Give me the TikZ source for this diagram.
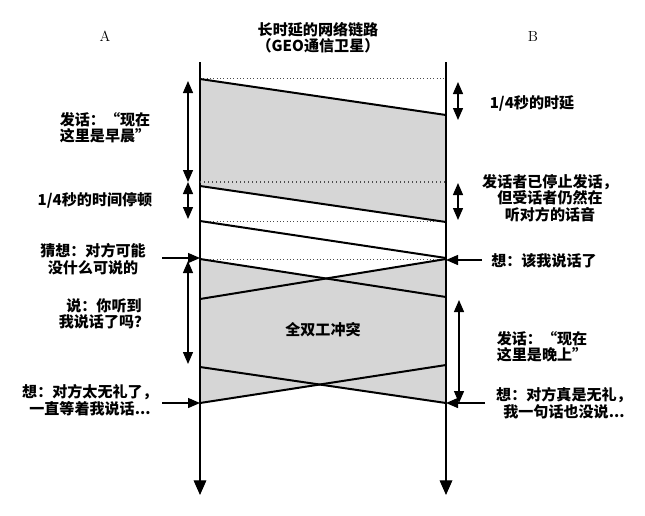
\documentclass[tikz,border=0pt]{standalone}
\usepackage{fontspec}
\newfontfamily\cjk{Noto Sans CJK SC}
\usetikzlibrary{arrows.meta}

\tikzset{
  timeline/.style={line width=0.9pt, -{Triangle[width=9.5pt,length=11pt]}},
  signal/.style={line width=1.5pt},
  edge dots/.style={dotted, line width=0.5pt, color=black!70},
  span/.style={line width=1pt, {Triangle[width=7.5pt,length=9pt]}-{Triangle[width=7.5pt,length=9pt]}},
  pointer/.style={line width=1pt, -{Triangle[width=7.5pt,length=9pt]}},
  talk/.style={fill=black!16, draw=none},
  note/.style={inner sep=0.75pt, align=center, font=\cjk\bfseries\fontsize{11.3}{12.3}\selectfont},
}

\begin{document}
\begin{tikzpicture}[x=0.75pt,y=0.75pt,yscale=-1,xscale=1]
\useasboundingbox (0,0) rectangle (645,515);

%Coordinates of the two ends
\coordinate (Atop) at (200,62);  \coordinate (Abot) at (200,495);
\coordinate (Btop) at (446,62);  \coordinate (Bbot) at (446,495);

%Shape: speech of A (morning)
\fill [talk] (200,79) -- (446,115) -- (446,222) -- (200,186) -- cycle;
%Shape: full duplex speech of A and B
\fill [talk] (200,259) -- (446,297) -- (446,403) -- (200,367) -- cycle;
\fill [talk] (446,259) -- (200,299) -- (200,403) -- (446,365) -- cycle;

%Straight Lines: time axes
\draw [timeline] (Atop) -- (Abot);
\draw [timeline] (Btop) -- (Bbot);

%Dotted Lines
\draw [edge dots] (200,78) -- (446,78);
\draw [edge dots, line width=1pt] (200,182) -- (446,182);
\draw [edge dots] (200,221) -- (446,221);
\draw [edge dots] (200,259) -- (446,259);

%Straight Lines: signals
\draw [signal] (200,79) -- (446,115);
\draw [signal] (200,186) -- (446,222);
\draw [signal] (200,221) -- (446,258);
\draw [signal] (200,259) -- (446,297);
\draw [signal] (446,259) -- (200,299);
\draw [signal] (200,367) -- (446,403);
\draw [signal] (446,365) -- (200,403);

%Double arrows left
\coordinate (la1) at (188,81);  \coordinate (la2) at (188,182);
\coordinate (la3) at (188,219); \coordinate (la4) at (188,261);
\coordinate (la5) at (188,364);
\draw [span] (la1) -- (la2);
\draw [span] (la2) -- (la3);
\draw [span] (la4) -- (la5);
%Double arrows right
\coordinate (ra1) at (458,82);  \coordinate (ra2) at (458,120);
\coordinate (ra3) at (458,183); \coordinate (ra4) at (458,220);
\coordinate (ra5) at (459,300); \coordinate (ra6) at (459,403);
\draw [span] (ra1) -- (ra2);
\draw [span] (ra3) -- (ra4);
\draw [span] (ra5) -- (ra6);

%Pointer arrows
\coordinate (pa1) at (162,258); \coordinate (pa1e) at (200,258);
\coordinate (pb1) at (482,260); \coordinate (pb1e) at (446,260);
\coordinate (pa2) at (162,403); \coordinate (pa2e) at (200,403);
\coordinate (pb2) at (485,403); \coordinate (pb2e) at (446,403);
\draw [pointer] (pa1) -- (pa1e);
\draw [pointer] (pb1) -- (pb1e);
\draw [pointer] (pa2) -- (pa2e);
\draw [pointer] (pb2) -- (pb2e);

% Text Node
\node (nameA) at (105,36) [inner sep=0.75pt, font=\fontsize{11}{12}\selectfont] {A};
\node (nameB) at (533,36) [inner sep=0.75pt, font=\fontsize{11}{12}\selectfont] {B};
\node (title) at (318,37.5) [note] {长时延的网络链路\\（GEO通信卫星）};
% Text Node
\node (morning) at (105,128) [note] {发话：“现在\\这里是早晨”};
\node (pause) at (95,200) [note] {1/4秒的时间停顿};
\node (guess) at (93,259) [note] {猜想：对方可能\\没什么可说的};
\node (ask) at (104,314) [note] {说：你听到\\我说话了吗？};
\node (rudeA) at (90,400) [note] {想：对方太无礼了，\\一直等着我说话...};
% Text Node
\node (delay) at (532,103) [note] {1/4秒的时延};
\node (stopped) at (550,198) [note] {发话者已停止发话，\\但受话者仍然在\\听对方的话音};
\node (turn) at (544,261) [note] {想：该我说话了};
\node (evening) at (542,347) [note] {发话：“现在\\这里是晚上”};
\node (rudeB) at (564,403) [note] {想：对方真是无礼，\\我一句话也没说...};
% Text Node
\node (clash) at (323,330) [note] {全双工冲突};

\end{tikzpicture}
\end{document}
